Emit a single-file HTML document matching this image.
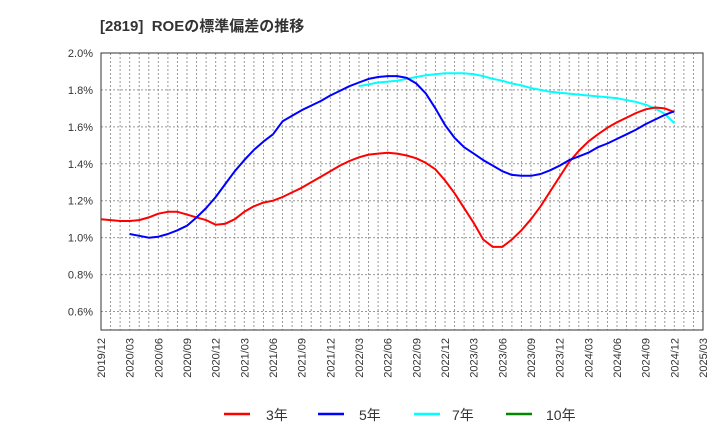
<!DOCTYPE html>
<html><head><meta charset="utf-8"><style>
body{margin:0;background:#fff;}
text{font-family:"Liberation Sans","Noto Sans CJK JP",sans-serif;}
</style></head><body>
<svg id="chart" width="720" height="440" xmlns="http://www.w3.org/2000/svg">
<rect width="720" height="440" fill="#fff"/>
<text x="100" y="31" font-size="15" font-weight="bold" fill="#333" xml:space="preserve">[2819]  ROEの標準偏差の推移</text>
<g id="grid"></g><g id="axes"></g><g id="series"></g>
<g>
<line x1="224" y1="414" x2="250" y2="414" stroke="#f00" stroke-width="2.5"/><text x="266" y="420" font-size="14" fill="#333">3年</text>
<line x1="318" y1="414" x2="344" y2="414" stroke="#00f" stroke-width="2.5"/><text x="359" y="420" font-size="14" fill="#333">5年</text>
<line x1="414" y1="414" x2="440" y2="414" stroke="#0ff" stroke-width="2.5"/><text x="452" y="420" font-size="14" fill="#333">7年</text>
<line x1="506" y1="414" x2="532" y2="414" stroke="#080" stroke-width="2.5"/><text x="546" y="420" font-size="14" fill="#333">10年</text>
</g>
</svg>
<script>
const xTickLabels=["2019/12","2020/03","2020/06","2020/09","2020/12","2021/03","2021/06","2021/09","2021/12","2022/03","2022/06","2022/09","2022/12","2023/03","2023/06","2023/09","2023/12","2024/03","2024/06","2024/09","2024/12","2025/03"];
const yTicks=[0.6,0.8,1.0,1.2,1.4,1.6,1.8,2.0];
const s3Start=0;
const s3=[1.10,1.095,1.09,1.09,1.095,1.11,1.13,1.14,1.14,1.125,1.11,1.095,1.07,1.075,1.10,1.14,1.17,1.19,1.20,1.22,1.245,1.27,1.30,1.33,1.36,1.39,1.415,1.435,1.45,1.455,1.46,1.455,1.445,1.43,1.405,1.37,1.31,1.24,1.16,1.08,0.99,0.95,0.95,0.99,1.04,1.10,1.17,1.25,1.33,1.41,1.47,1.52,1.56,1.595,1.625,1.65,1.675,1.695,1.705,1.70,1.68];
const s5Start=3;
const s5=[1.02,1.01,1.00,1.005,1.02,1.04,1.065,1.11,1.16,1.22,1.29,1.36,1.42,1.475,1.52,1.56,1.63,1.66,1.69,1.715,1.74,1.77,1.795,1.82,1.84,1.86,1.87,1.875,1.875,1.865,1.835,1.78,1.70,1.61,1.54,1.49,1.455,1.42,1.39,1.36,1.34,1.335,1.335,1.345,1.365,1.39,1.42,1.44,1.46,1.49,1.51,1.535,1.56,1.585,1.615,1.64,1.665,1.685];
const s7Start=27;
const s7=[1.82,1.83,1.84,1.845,1.85,1.86,1.87,1.88,1.885,1.89,1.89,1.89,1.885,1.875,1.86,1.85,1.835,1.825,1.81,1.80,1.79,1.785,1.78,1.775,1.77,1.765,1.76,1.755,1.745,1.735,1.72,1.70,1.67,1.62];
const L=101,R=703,T=53,B=330,yMin=0.5,yMax=2.0,nMonths=63;
const X=i=>L+(R-L)*i/nMonths;
const Y=v=>B-(B-T)*(v-yMin)/(yMax-yMin);
const NS="http://www.w3.org/2000/svg";
function mk(tag,attrs,parent){const e=document.createElementNS(NS,tag);for(const k in attrs)e.setAttribute(k,attrs[k]);document.getElementById(parent).appendChild(e);return e;}
for(let i=1;i<nMonths;i++){const g=mk('line',{x1:X(i),x2:X(i),y1:T,y2:B,stroke:'#999','stroke-dasharray':'2,2','stroke-width':1},'grid');

}
yTicks.forEach(v=>{const g=mk('line',{x1:L,x2:R,y1:Y(v),y2:Y(v),stroke:'#999','stroke-dasharray':'2,2','stroke-width':1},'grid');


const t=mk('text',{x:L-8,y:Y(v)+4,'text-anchor':'end','font-size':11,fill:'#333'},'axes');


t.textContent=v.toFixed(1)+'%';});
const fr=mk('rect',{x:L,y:T,width:R-L,height:B-T,fill:'none',stroke:'#333','stroke-width':1},'axes');


xTickLabels.forEach((s,i)=>{const x=X(i*3)+4;const t=mk('text',{x:x,y:B+8,'text-anchor':'end','font-size':11,fill:'#333',transform:`rotate(-90 ${x} ${B+8})`},'axes');


t.textContent=s;});
function line(arr,start,color,name){const d=arr.map((v,i)=>(i?'L':'M')+X(start+i).toFixed(1)+','+Y(v).toFixed(1)).join('');
const p=mk('path',{d:d,fill:'none',stroke:color,'stroke-width':2,'stroke-linejoin':'round'},'series');

}
line(s7,s7Start,'#0ff','series-7y');
line(s3,s3Start,'#f00','series-3y');
line(s5,s5Start,'#00f','series-5y');
</script>
</body></html>
